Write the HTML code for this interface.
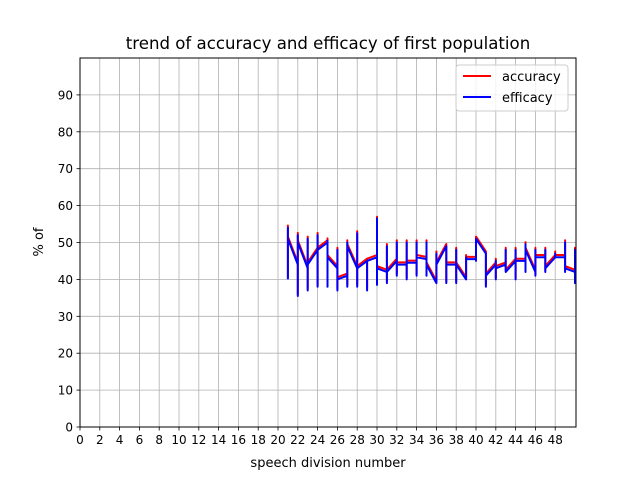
<!DOCTYPE html>
<html><head><meta charset="utf-8"><style>
body{margin:0;background:#fff;}
svg text{font-family:"DejaVu Sans","Liberation Sans",sans-serif;}
</style></head><body>
<svg id="chart" width="640" height="480" xmlns="http://www.w3.org/2000/svg">
<rect width="640" height="480" fill="#fff"/>
<g id="grid"></g>
<g id="ticks"></g>
<g id="series"></g>
<rect x="80" y="58" width="496" height="369" fill="none" stroke="#000" stroke-width="1"/>
<text x="328" y="49" font-size="16.6" text-anchor="middle">trend of accuracy and efficacy of first population</text>
<text x="328" y="467" font-size="13" text-anchor="middle">speech division number</text>
<text x="43" y="242" font-size="13" text-anchor="middle" transform="rotate(-90 43 242)">% of</text>
<g>
<rect x="456" y="65" width="112" height="46" rx="3" fill="#fff" fill-opacity="0.8" stroke="#ccc"/>
<g>
<line x1="463" y1="76" x2="491" y2="76" stroke="red" stroke-width="2"/>
<text x="502" y="81" font-size="13">accuracy</text></g>
<g>
<line x1="463" y1="97" x2="491" y2="97" stroke="blue" stroke-width="2"/>
<text x="502" y="102" font-size="13">efficacy</text></g>
</g>
</svg>
<script>
const xs=[21,22,23,24,25,26,27,28,29,30,31,32,33,34,35,36,37,38,39,40,41,42,43,44,45,46,47,48,49,50];
const effArrive=[40,44,43,48,50,43,41,43,45,46,42,45,44,44.5,45.5,39,49,44,40,45.5,47,44,44,45,45,42,46,46,46,42];
const effLow=[40,35.5,37,38,38,37,38,38,37,38.5,39,41,40,41,41,39,39,39,40,45,38,40,42,40,42,41,42,46,42,39];
const effHigh=[54,52,51,52,50.5,48,50,52.5,45,56.5,49,50,50,50,50,47,49,48,46,51,47,45,48,48,49.5,48,48,47,50,48];
const effLeave=[51,50,44,48,46,40,49,43,45,43,42,44,44.5,46,44,44,44,44,45.5,51,41,43,42,45,48,46,43,46,43,44];
const accArrive=[40.5,44.6,43.6,48.6,50.6,43.6,41.6,43.6,45.6,46.6,42.6,45.6,44.6,45.1,46.1,39.6,49.6,44.6,40.6,46.1,47.6,44.6,44.6,45.6,45.6,42.6,46.6,46.6,46.6,42.6];
const accLow=[40.5,36,37.5,38.5,38.5,37.5,38.5,38.5,37.5,39,39.5,41.5,40.5,41.5,41.5,39.5,39.5,39.5,40.5,45.5,38.5,40.5,42.5,40.5,42.5,41.5,42.5,46.5,42.5,39.5];
const accHigh=[54.6,52.6,51.6,52.6,51.1,48.6,50.6,53.1,45.6,57,49.6,50.6,50.6,50.6,50.6,47.6,49.6,48.6,46.6,51.6,47.6,45.6,48.6,48.6,50.1,48.6,48.6,47.6,50.6,48.6];
const accLeave=[51.6,50.6,44.6,48.6,46.6,40.6,49.6,43.6,45.6,43.6,42.6,44.6,45.1,46.6,44.6,44.6,44.6,44.6,46.1,51.6,41.6,43.6,42.6,45.6,48.6,46.6,43.6,46.6,43.6,44.6];
const xTicks=[0,2,4,6,8,10,12,14,16,18,20,22,24,26,28,30,32,34,36,38,40,42,44,46,48];
const yTicks=[0,10,20,30,40,50,60,70,80,90];
const X0=80,X1=576,Y0=427,Y1=58,XMAX=50.1,YMAX=100;
function sx(v){return X0+v/XMAX*(X1-X0);}
function sy(v){return Y0-v/YMAX*(Y0-Y1);}
const NS="http://www.w3.org/2000/svg";
const grid=document.getElementById('grid'),ticks=document.getElementById('ticks'),series=document.getElementById('series');
function mk(tag,attrs,parent){const e=document.createElementNS(NS,tag);for(const k in attrs)e.setAttribute(k,attrs[k]);parent.appendChild(e);return e;}
xTicks.forEach(t=>{const x=sx(t);
 const g=mk('line',{x1:x,x2:x,y1:Y1,y2:Y0,stroke:'#b0b0b0','stroke-width':0.8},grid);
 
 
 mk('line',{x1:x,x2:x,y1:Y0,y2:Y0+3.5,stroke:'#000','stroke-width':0.8},ticks);
 const l=mk('text',{x:x,y:Y0+17,'font-size':12,'text-anchor':'middle'},ticks);l.textContent=t;
 
 
});
yTicks.forEach(t=>{const y=sy(t);
 const g=mk('line',{x1:X0,x2:X1,y1:y,y2:y,stroke:'#b0b0b0','stroke-width':0.8},grid);
 
 
 mk('line',{x1:X0-3.5,x2:X0,y1:y,y2:y,stroke:'#000','stroke-width':0.8},ticks);
 const l=mk('text',{x:X0-7,y:y+4.5,'font-size':12,'text-anchor':'end'},ticks);l.textContent=t;
 
 
});
function pathFor(a,lo,hi,le){let pts=[];xs.forEach((x,i)=>{[a[i],lo[i],hi[i],le[i]].forEach(v=>pts.push(sx(x).toFixed(1)+','+sy(v).toFixed(1)));});return 'M'+pts.join('L');}
const clip=mk('clipPath',{id:'pc'},series);mk('rect',{x:X0,y:Y1,width:X1-X0,height:Y0-Y1},clip);
const pa=mk('path',{d:pathFor(accArrive,accLow,accHigh,accLeave),fill:'none',stroke:'red','stroke-width':2,'clip-path':'url(#pc)','stroke-linejoin':'round'},series);


const pe=mk('path',{d:pathFor(effArrive,effLow,effHigh,effLeave),fill:'none',stroke:'blue','stroke-width':2,'clip-path':'url(#pc)','stroke-linejoin':'round'},series);


</script>
</body></html>
